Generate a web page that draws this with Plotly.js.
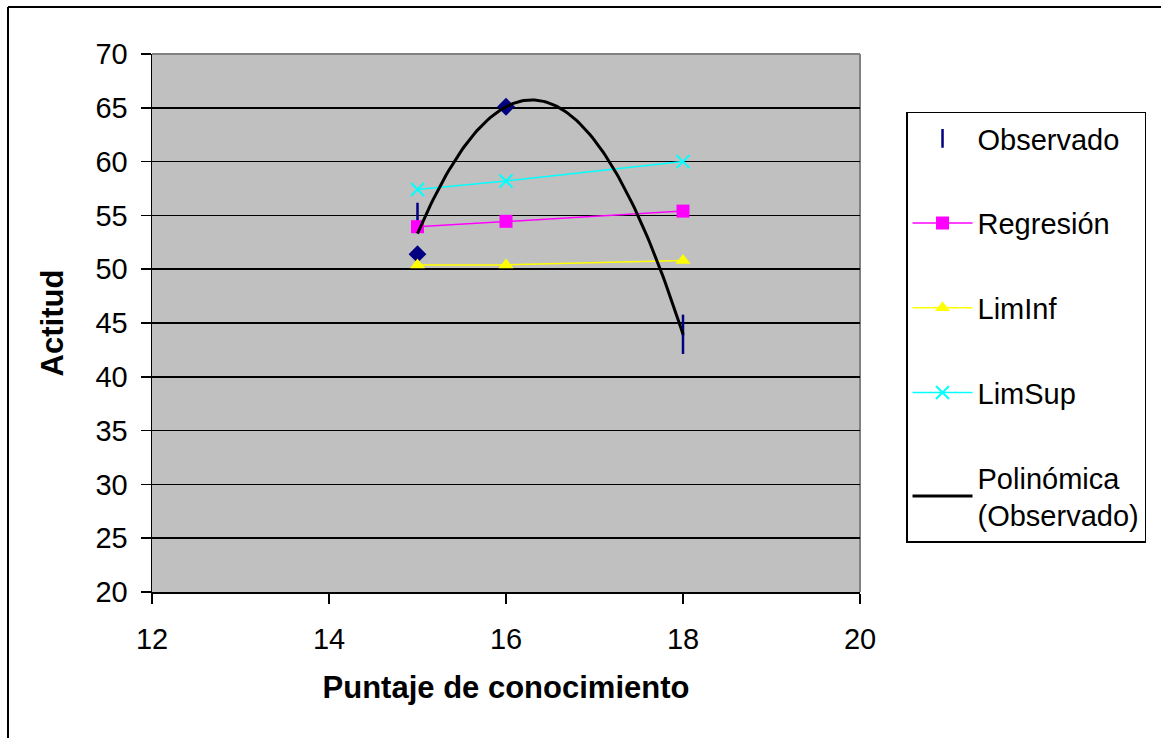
<!DOCTYPE html>
<html>
<head>
<meta charset="utf-8">
<script src="https://cdn.plot.ly/plotly-3.0.1.min.js"></script>
<style>
html,body{margin:0;padding:0;background:#fff;}
#chart{width:1161px;height:738px;}
</style>
</head>
<body>
<div id="chart"></div>
<script>
// Observed points (x = Puntaje de conocimiento, y = Actitud)
var obsX = [15, 18, 18, 15, 16];
var obsY = [55.2, 44.8, 43.1, 51.4, 65.1];
var obsSymbols = ['line-ns', 'line-ns', 'line-ns', 'diamond', 'diamond'];

// Regression line and limits
var fitX = [15, 16, 18];
var regresion = [53.95, 54.45, 55.4];
var limInf = [50.4, 50.4, 50.8];
var limSup = [57.4, 58.2, 60.0];

var xTicks = [12, 14, 16, 18, 20];
var yTicks = [20, 25, 30, 35, 40, 45, 50, 55, 60, 65, 70];

// Polynomial (degree 2) least-squares trendline of the observed data
function quadFit(xs, ys) {
  var S = [0,0,0,0,0], T = [0,0,0];
  for (var i = 0; i < xs.length; i++) {
    var p = 1;
    for (var k = 0; k < 5; k++) { S[k] += p; if (k < 3) T[k] += p * ys[i]; p *= xs[i]; }
  }
  var A = [[S[0],S[1],S[2],T[0]],[S[1],S[2],S[3],T[1]],[S[2],S[3],S[4],T[2]]];
  for (var c = 0; c < 3; c++) {
    var piv = c;
    for (var r = c+1; r < 3; r++) if (Math.abs(A[r][c]) > Math.abs(A[piv][c])) piv = r;
    var tmp = A[c]; A[c] = A[piv]; A[piv] = tmp;
    for (var r2 = 0; r2 < 3; r2++) {
      if (r2 === c) continue;
      var f = A[r2][c] / A[c][c];
      for (var k2 = c; k2 < 4; k2++) A[r2][k2] -= f * A[c][k2];
    }
  }
  return [A[0][3]/A[0][0], A[1][3]/A[1][1], A[2][3]/A[2][2]];
}
var coef = quadFit(obsX, obsY);
var xMin = Math.min.apply(null, obsX), xMax = Math.max.apply(null, obsX);
var polyX = [], polyY = [];
for (var i = 0; i <= 120; i++) {
  var xv = xMin + (xMax - xMin) * i / 120;
  polyX.push(xv);
  polyY.push(coef[0] + coef[1]*xv + coef[2]*xv*xv);
}

var FONT = 'Liberation Sans, Arial, sans-serif';

var traces = [
  {x: obsX, y: obsY, type: 'scatter', mode: 'markers', name: 'Observado', legendgroup: 'g1',
   marker: {symbol: obsSymbols, size: [15,15,15,11,11], color: '#000080', opacity: 1,
            line: {color: '#000080', width: 2.5}}},
  {x: fitX, y: regresion, type: 'scatter', mode: 'lines+markers', name: 'Regresión', legendgroup: 'g2',
   line: {color: '#FF00FF', width: 1.5},
   marker: {symbol: 'square', size: 13, color: '#FF00FF'}},
  {x: fitX, y: limInf, type: 'scatter', mode: 'lines+markers', name: 'LimInf', legendgroup: 'g3',
   line: {color: '#FFFF00', width: 1.5},
   marker: {symbol: 'triangle-up', size: 13, color: '#FFFF00'}},
  {x: fitX, y: limSup, type: 'scatter', mode: 'lines+markers', name: 'LimSup', legendgroup: 'g4',
   line: {color: '#00FFFF', width: 1.5},
   marker: {symbol: 'x-thin-open', size: 13, color: '#00FFFF', line: {color: '#00FFFF', width: 2}}},
  {x: polyX, y: polyY, type: 'scatter', mode: 'lines', name: 'Polinómica<br>(Observado)', legendgroup: 'g5',
   line: {color: '#000000', width: 3}}
];

var layout = {
  width: 1161, height: 738,
  margin: {l: 152, r: 301, t: 54, b: 146},
  paper_bgcolor: '#FFFFFF',
  plot_bgcolor: '#C0C0C0',
  font: {family: FONT, color: '#000000', size: 29},
  showlegend: true,
  legend: {
    x: 1.065, y: 0.893, xanchor: 'left', yanchor: 'top',
    bordercolor: '#000000', borderwidth: 1.5, bgcolor: '#FFFFFF',
    font: {family: FONT, size: 29, color: '#000000'},
    traceorder: 'grouped', tracegroupgap: 44, itemwidth: 60
  },
  xaxis: {
    range: [12, 20], tickvals: xTicks, ticktext: xTicks.map(String),
    showgrid: false, zeroline: false,
    showline: true, linecolor: '#000000', linewidth: 1.5,
    ticks: 'outside', ticklen: 10, tickwidth: 1.5, tickcolor: '#000000',
    ticklabelstandoff: 11,
    tickfont: {family: FONT, size: 29, color: '#000000'},
    title: {text: '<b>Puntaje de conocimiento</b>', font: {family: FONT, size: 31, color: '#000000'}, standoff: 22}
  },
  yaxis: {
    range: [20, 70], tickvals: yTicks, ticktext: yTicks.map(String),
    showgrid: true, gridcolor: '#000000', gridwidth: 1.5, zeroline: false,
    showline: true, linecolor: '#000000', linewidth: 1.5,
    ticks: 'outside', ticklen: 10, tickwidth: 1.5, tickcolor: '#000000',
    ticklabelstandoff: 7,
    tickfont: {family: FONT, size: 29, color: '#000000'},
    title: {text: '<b>Actitud</b>', font: {family: FONT, size: 31, color: '#000000'}, standoff: 22}
  },
  shapes: [
    {type: 'line', xref: 'paper', yref: 'paper', x0: 0, x1: 1, y0: 1, y1: 1, layer: 'between',
     line: {color: '#808080', width: 2}},
    {type: 'line', xref: 'paper', yref: 'paper', x0: 1, x1: 1, y0: 0, y1: 1, layer: 'between',
     line: {color: '#808080', width: 2}},
    {type: 'line', xref: 'paper', yref: 'paper', x0: -0.2034, x1: -0.2034, y0: 1.0874, y1: -0.4, layer: 'above',
     line: {color: '#000000', width: 2}},
    {type: 'line', xref: 'paper', yref: 'paper', x0: -0.2034, x1: 1.6, y0: 1.0874, y1: 1.0874, layer: 'above',
     line: {color: '#000000', width: 2}}
  ]
};

Plotly.newPlot('chart', traces, layout, {displayModeBar: false, staticPlot: true});
</script>
</body>
</html>
